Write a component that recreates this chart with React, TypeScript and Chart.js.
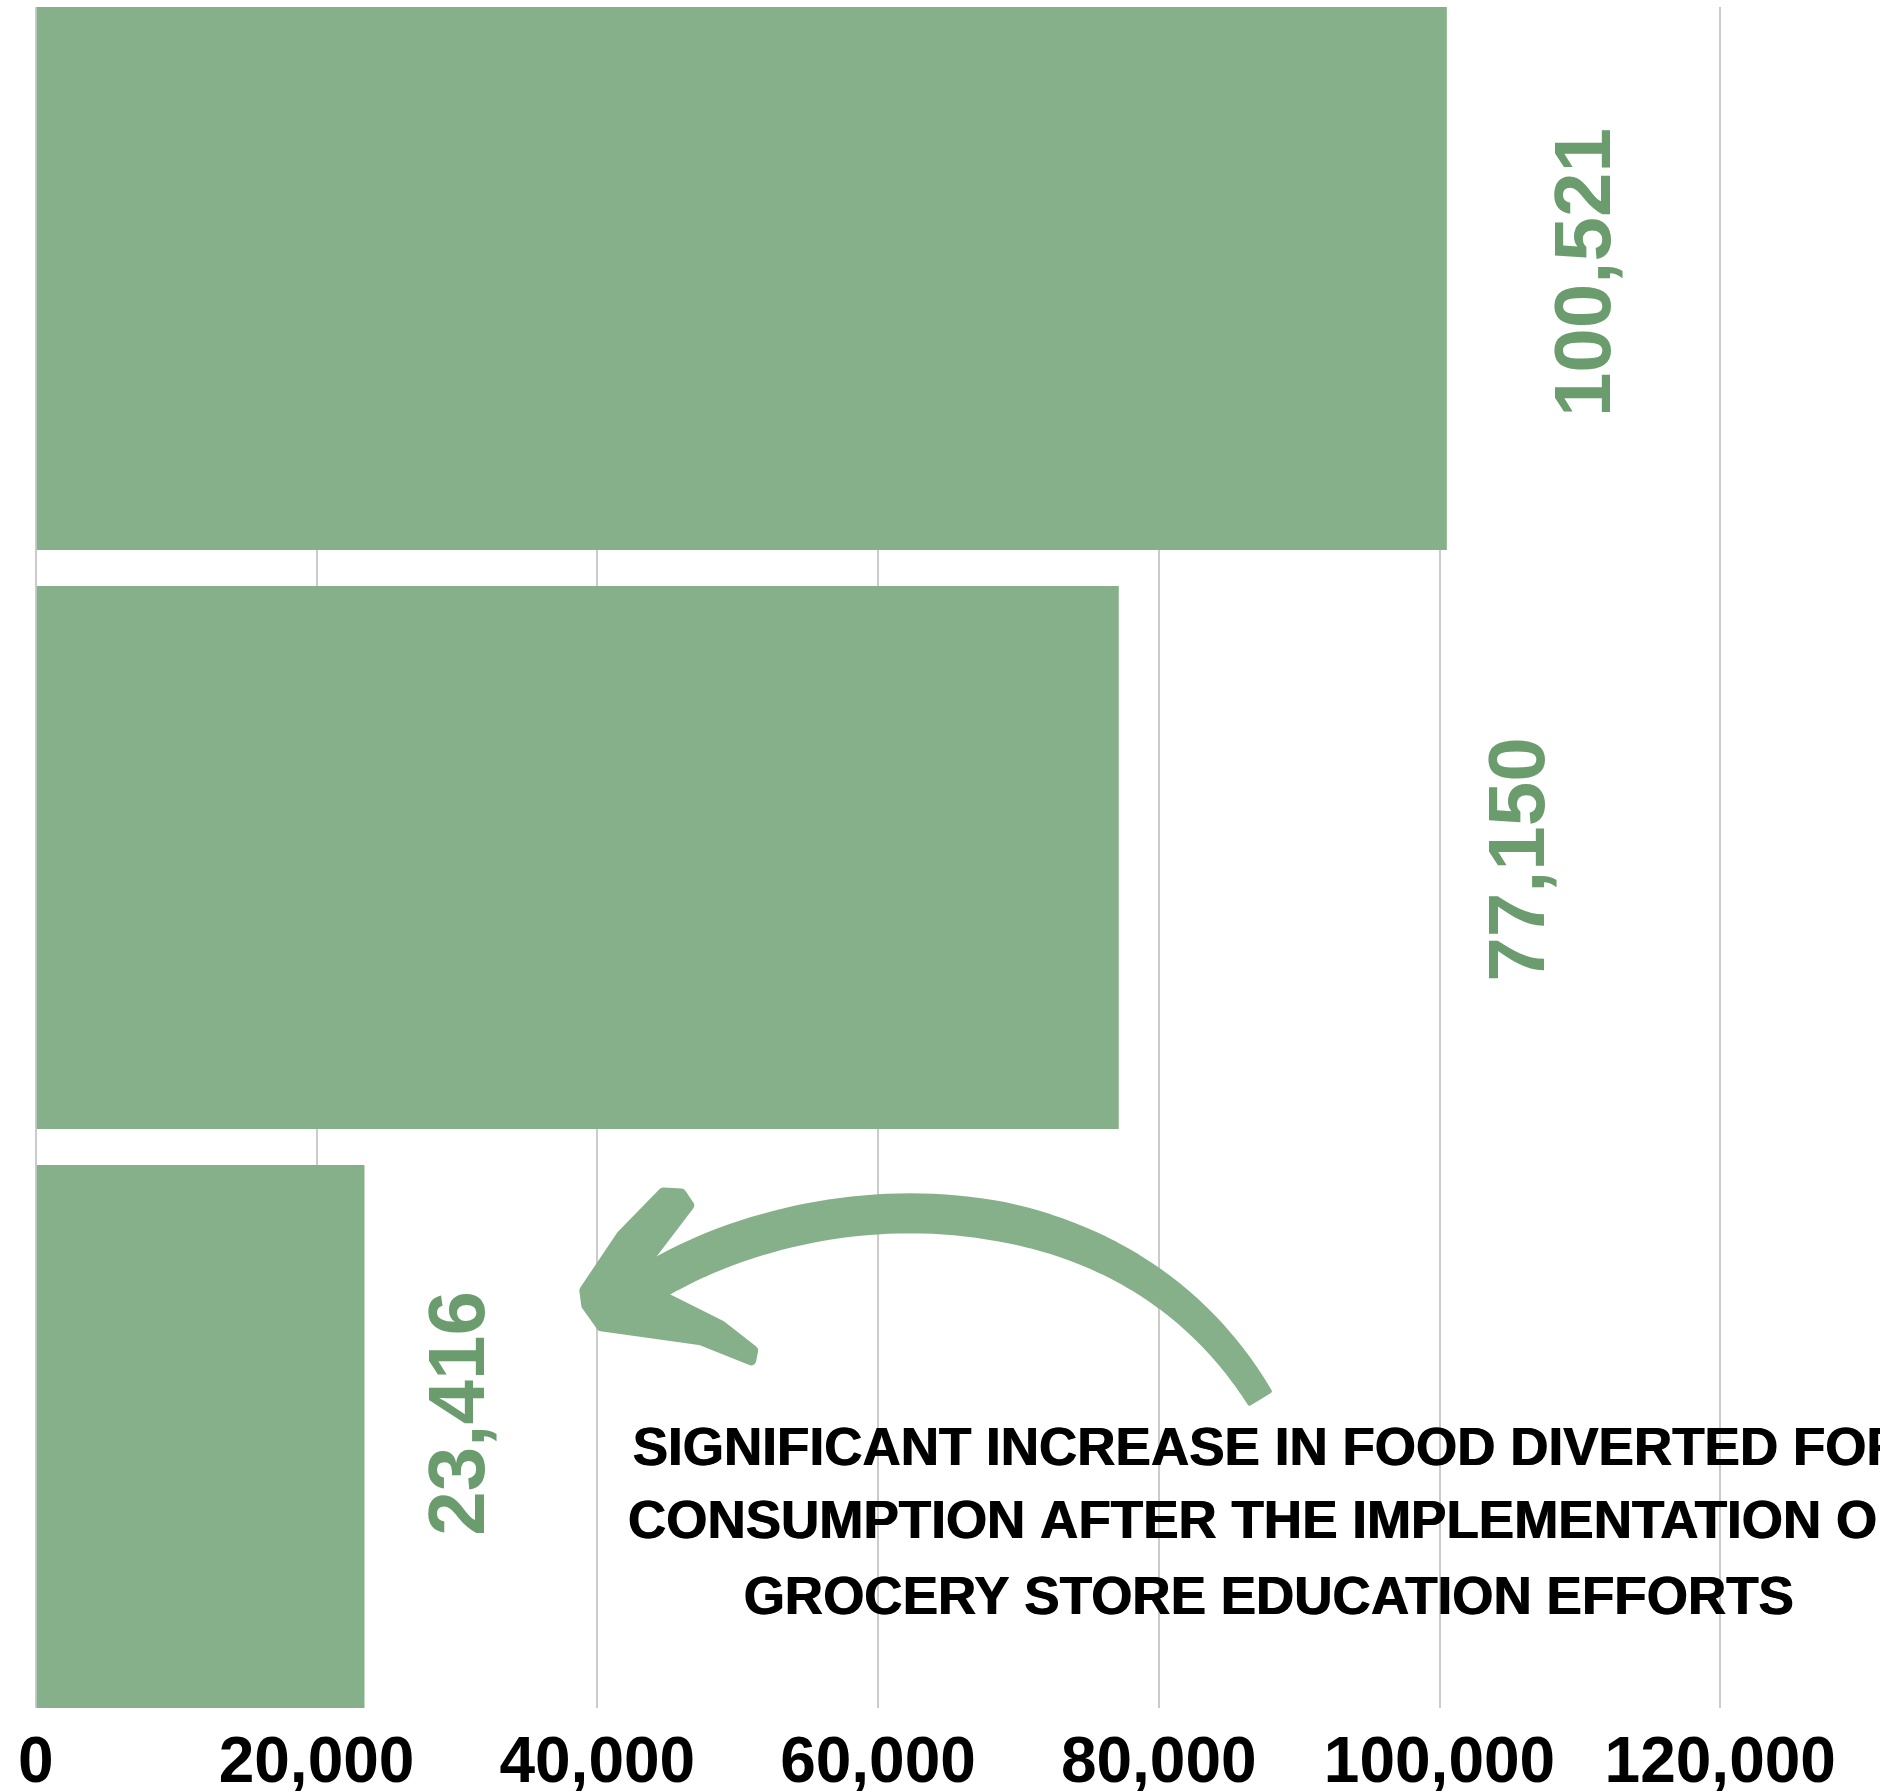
import { useEffect, useRef } from 'react';
import { Chart, registerables } from 'chart.js';

Chart.register(...registerables);

// ---- data ----
const categories = ['Period A', 'Period B', 'Period C'];
const values = [100521, 77150, 23416];
const xTickStep = 20000;
const xMax = 140000;
const annotationLines = [
  'SIGNIFICANT INCREASE IN FOOD DIVERTED FOR',
  'CONSUMPTION AFTER THE IMPLEMENTATION OF',
  'GROCERY STORE EDUCATION EFFORTS',
];
// annotation anchor in data units (x value, y index)
const annotationX = 87800;
const annotationY = [2.024, 2.15, 2.282];
// value-label offsets from bar end (px)
const labelDX = [141, 403, 97];
const labelDY = [-6, 2, -23];
// arrow (data units: [x value, y index])
const arrowShaft: [number, number][] = [
  [43843, 1.7339],
  [55943, 1.5577],
  [77295, 1.5404],
  [87188, 1.9326],
];
const arrowHead: [number, number][] = [
  [39075, 1.7478],
  [41708, 1.6528],
  [44697, 1.5785],
  [45978, 1.5802],
  [46548, 1.6009],
  [43131, 1.7097],
  [47402, 1.6959],
  [44555, 1.7564],
  [48825, 1.8082],
  [51103, 1.8514],
  [50961, 1.8687],
  [47402, 1.8341],
  [40284, 1.8099],
  [39217, 1.7737],
];

const BAR_COLOR = '#86b089';
const LABEL_COLOR = '#6b9c6e';
const FONT = '"Liberation Sans", Arial, Helvetica, sans-serif';

const W = 2151;
const H = 1791;

const overlayPlugin = {
  id: 'overlay',
  afterDatasetsDraw(chart: any) {
    const ctx = chart.ctx as CanvasRenderingContext2D;
    const xs = chart.scales.x;
    const ys = chart.scales.y;
    const px = (p: [number, number]) => [xs.getPixelForValue(p[0]), ys.getPixelForValue(p[1])];

    // value labels
    const meta = chart.getDatasetMeta(0);
    ctx.save();
    ctx.fillStyle = LABEL_COLOR;
    ctx.font = `bold 80px ${FONT}`;
    ctx.textAlign = 'center';
    ctx.textBaseline = 'middle';
    meta.data.forEach((el: any, i: number) => {
      ctx.save();
      ctx.translate(el.x + labelDX[i], el.y + labelDY[i]);
      ctx.rotate(-Math.PI / 2);
      ctx.fillText(values[i].toLocaleString('en-US'), 0, 0);
      ctx.restore();
    });
    ctx.restore();

    // arrow shaft (tapered band along cubic bezier)
    const [p0, p1, p2, p3] = arrowShaft.map(px);
    const N = 60;
    const left: number[][] = [];
    const right: number[][] = [];
    for (let k = 0; k <= N; k++) {
      const t = k / N;
      const a = (1 - t) ** 3, b = 3 * (1 - t) ** 2 * t, c = 3 * (1 - t) * t * t, d = t ** 3;
      const x = a * p0[0] + b * p1[0] + c * p2[0] + d * p3[0];
      const y = a * p0[1] + b * p1[1] + c * p2[1] + d * p3[1];
      const dx = 3 * (1 - t) ** 2 * (p1[0] - p0[0]) + 6 * (1 - t) * t * (p2[0] - p1[0]) + 3 * t * t * (p3[0] - p2[0]);
      const dy = 3 * (1 - t) ** 2 * (p1[1] - p0[1]) + 6 * (1 - t) * t * (p2[1] - p1[1]) + 3 * t * t * (p3[1] - p2[1]);
      const len = Math.hypot(dx, dy) || 1;
      const nx = -dy / len, ny = dx / len;
      const w = t < 0.55 ? 36 : 36 - ((t - 0.55) / 0.45) * 12;
      left.push([x + nx * w / 2, y + ny * w / 2]);
      right.push([x - nx * w / 2, y - ny * w / 2]);
    }
    ctx.save();
    ctx.fillStyle = BAR_COLOR;
    ctx.strokeStyle = BAR_COLOR;
    ctx.lineJoin = 'round';
    ctx.lineWidth = 4;
    ctx.beginPath();
    left.forEach((p, i) => (i ? ctx.lineTo(p[0], p[1]) : ctx.moveTo(p[0], p[1])));
    for (let i = right.length - 1; i >= 0; i--) ctx.lineTo(right[i][0], right[i][1]);
    ctx.closePath();
    ctx.fill();
    ctx.stroke();

    // arrow head
    ctx.beginPath();
    arrowHead.map(px).forEach((p, i) => (i ? ctx.lineTo(p[0], p[1]) : ctx.moveTo(p[0], p[1])));
    ctx.closePath();
    ctx.fill();
    ctx.lineWidth = 10;
    ctx.stroke();
    ctx.restore();

    // annotation text
    ctx.save();
    ctx.fillStyle = '#000000';
    ctx.font = `bold 53px ${FONT}`;
    ctx.textAlign = 'center';
    ctx.textBaseline = 'middle';
    const cx = xs.getPixelForValue(annotationX);
    annotationLines.forEach((line, i) => {
      const y = ys.getPixelForValue(annotationY[i]);
      ctx.fillText(line, cx, y);
      // faux-heavy weight
      ctx.fillText(line, cx + 1, y);
    });
    ctx.restore();
  },
};

export default function App() {
  const ref = useRef<HTMLCanvasElement | null>(null);

  useEffect(() => {
    if (!ref.current) return;
    const chart = new Chart(ref.current, {
      type: 'bar',
      data: {
        labels: categories,
        datasets: [
          {
            label: 'Food diverted',
            data: values.map((v, i) => ({ x: v, y: i })) as any,
            backgroundColor: BAR_COLOR,
            borderWidth: 0,
            barPercentage: 0.938,
            categoryPercentage: 1,
          },
        ],
      },
      options: {
        indexAxis: 'y',
        animation: false,
        responsive: false,
        devicePixelRatio: 1,
        layout: { padding: { left: 34, top: 7, right: 150, bottom: 0 } },
        plugins: {
          legend: { display: false },
          tooltip: { enabled: false },
          title: { display: false },
        },
        scales: {
          x: {
            type: 'linear',
            min: 0,
            max: xMax,
            position: 'bottom',
            border: { display: false },
            grid: { color: '#cbcbcb', lineWidth: 2, drawTicks: false },
            ticks: {
              stepSize: xTickStep,
              autoSkip: false,
              maxRotation: 0,
              padding: 18,
              color: '#000000',
              font: { family: FONT, weight: 'bold', size: 64 },
              callback: (v: any) => Number(v).toLocaleString('en-US'),
            },
            afterFit: (s: any) => {
              s.height = 83;
            },
          },
          y: {
            type: 'linear',
            reverse: true,
            offset: false,
            min: -0.469,
            max: 2.469,
            display: false,
            afterBuildTicks: (s: any) => {
              s.ticks = categories.map((_, i) => ({ value: i }));
            },
          },
        },
      },
      plugins: [overlayPlugin],
    });
    return () => chart.destroy();
  }, []);

  return (
    <div
      style={{
        position: 'fixed',
        left: 0,
        top: 0,
        width: 1880,
        height: 1791,
        overflow: 'hidden',
        background: '#ffffff',
      }}
    >
      <canvas ref={ref} width={W} height={H} style={{ display: 'block', width: W, height: H }} />
    </div>
  );
}
